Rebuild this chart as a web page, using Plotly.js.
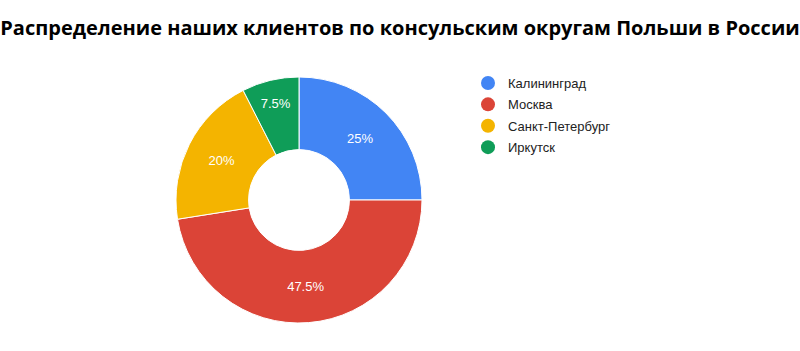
<!DOCTYPE html>
<html><head><meta charset="utf-8">
<script src="https://cdn.plot.ly/plotly-3.0.1.min.js"></script>
<style>html,body{margin:0;padding:0;background:#fff}</style>
</head><body>
<div id="chart" style="width:800px;height:351px"></div>
<script>
const labels = ["Калининград", "Москва", "Санкт-Петербург", "Иркутск"];
const values = [25, 47.5, 20, 7.5];
const colors = ["#4285F4", "#DB4437", "#F4B400", "#0F9D58"];
const titleText = "Распределение наших клиентов по консульским округам Польши в России";

const traces = [{
  type: "pie",
  labels: labels,
  values: values,
  sort: false,
  direction: "clockwise",
  rotation: 0,
  hole: 0.41,
  marker: {colors: colors, line: {color: "#fff", width: 1}},
  textinfo: "percent",
  texttemplate: "%{percent:.3~%}",
  textposition: "inside",
  insidetextorientation: "horizontal",
  textfont: {color: "#fff", size: 13, family: "Liberation Sans, Arial, sans-serif"},
  showlegend: false,
  domain: {x: [176/800, 422/800], y: [28/351, 274/351]}
}];
labels.forEach((l, i) => {
  traces.push({type: "scatter", mode: "markers", x: [null], y: [null], name: l, legendgroup: "g" + i,
    marker: {color: colors[i], size: 14, symbol: "circle"}, showlegend: true, hoverinfo: "skip"});
});

const layout = {
  width: 800, height: 351,
  margin: {l: 0, r: 0, t: 0, b: 0},
  paper_bgcolor: "#fff", plot_bgcolor: "#fff",
  title: {text: "<b>" + titleText + "</b>", x: 0.5, xanchor: "center", y: 1 - 28/351, yanchor: "middle",
    font: {family: "Open Sans, sans-serif", size: 20, color: "#000"}},
  xaxis: {visible: false}, yaxis: {visible: false},
  legend: {x: 468/800, xanchor: "left", y: 1 - 68/351, yanchor: "top", tracegroupgap: 1.5,
    font: {family: "Liberation Sans, Arial, sans-serif", size: 13, color: "#222"}, bgcolor: "rgba(0,0,0,0)"}
};
Plotly.newPlot("chart", traces, layout, {displayModeBar: false, staticPlot: true});
</script>
</body></html>
